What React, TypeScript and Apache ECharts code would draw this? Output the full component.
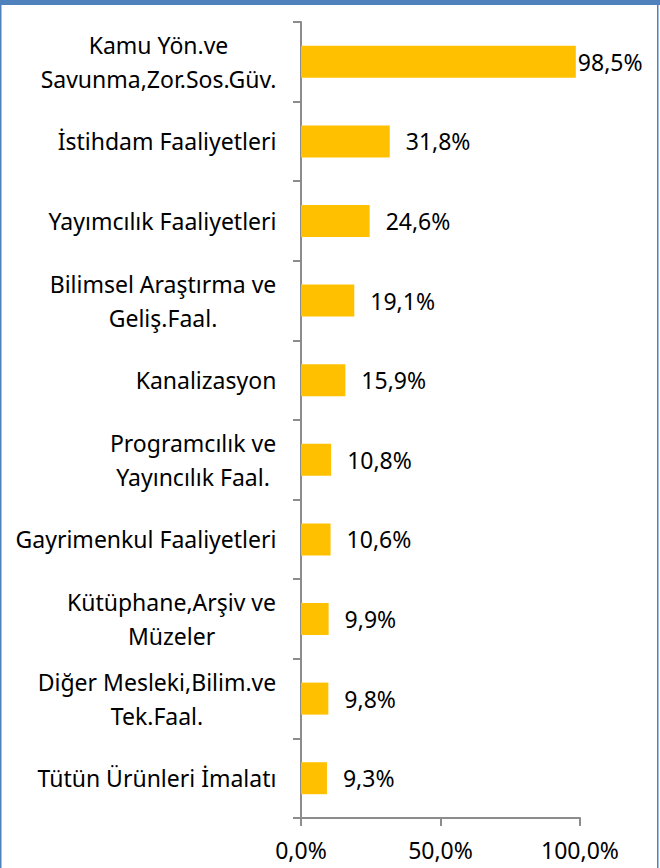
import React, { useEffect, useRef } from "react";
import * as echarts from "echarts";

const categories: string[] = [
  "Kamu Yön.ve\nSavunma,Zor.Sos.Güv.",
  "İstihdam Faaliyetleri",
  "Yayımcılık Faaliyetleri",
  "Bilimsel Araştırma ve\nGeliş.Faal.",
  "Kanalizasyon",
  "Programcılık ve\nYayıncılık Faal.",
  "Gayrimenkul Faaliyetleri",
  "Kütüphane,Arşiv ve\nMüzeler",
  "Diğer Mesleki,Bilim.ve\nTek.Faal.",
  "Tütün Ürünleri İmalatı",
];

const values: number[] = [98.5, 31.8, 24.6, 19.1, 15.9, 10.8, 10.6, 9.9, 9.8, 9.3];

const FONT = '"Noto Sans", sans-serif';
const FS = 23;

function fmt(v: number): string {
  return v.toFixed(1).replace(".", ",") + "%";
}

export default function App() {
  const ref = useRef<HTMLDivElement>(null);
  useEffect(() => {
    if (!ref.current) return;
    const chart = echarts.init(ref.current, undefined, { renderer: "svg" });

    const ctx = document.createElement("canvas").getContext("2d")!;
    ctx.font = `${FS}px ${FONT}`;
    const rich: Record<string, any> = {};
    categories.forEach((c, i) => {
      const w = Math.max(...c.split("\n").map((l) => ctx.measureText(l).width));
      rich["r" + i] = {
        width: Math.ceil(w) + 1,
        align: "center",
        fontSize: FS,
        fontFamily: FONT,
        color: "#000",
        lineHeight: 34,
      };
    });

    chart.setOption({
      animation: false,
      backgroundColor: "#fff",
      graphic: [
        { type: "rect", shape: { x: 0, y: 0, width: 660, height: 5 }, style: { fill: "#4F81BD" } },
        { type: "rect", shape: { x: 0, y: 0, width: 1.5, height: 868 }, style: { fill: "#4F81BD" } },
        { type: "rect", shape: { x: 657, y: 0, width: 1.5, height: 868 }, style: { fill: "#4F81BD" } },
      ],
      grid: { left: 301, right: 80, top: 22, bottom: 50, containLabel: false },
      xAxis: {
        type: "value",
        min: 0,
        max: 100,
        interval: 50,
        splitLine: { show: false },
        axisLine: { show: true, lineStyle: { color: "#8c8c8c", width: 2 } },
        axisTick: { show: true, length: 8, lineStyle: { color: "#8c8c8c", width: 2 } },
        axisLabel: {
          formatter: (v: number) => fmt(v),
          fontSize: FS,
          fontFamily: FONT,
          color: "#000",
          margin: 20,
        },
      },
      yAxis: {
        type: "category",
        inverse: true,
        data: categories,
        axisLine: { show: true, lineStyle: { color: "#8c8c8c", width: 2 } },
        axisTick: { show: true, length: 8, lineStyle: { color: "#8c8c8c", width: 2 } },
        axisLabel: {
          margin: 24,
          align: "right",
          interval: 0,
          formatter: (v: string, i: number) =>
            v.split("\n").map((l) => `{r${i}|${l}}`).join("\n"),
          rich,
        },
      },
      series: [
        {
          type: "bar",
          barWidth: 32,
          itemStyle: { color: "#FFC000" },
          data: values.map((v, i) => ({
            value: v,
            label: { distance: i === 0 ? 2 : 16 },
          })),
          label: {
            show: true,
            position: "right",
            formatter: (p: any) => fmt(p.value),
            fontSize: FS,
            fontFamily: FONT,
            color: "#000",
          },
        },
      ],
    });
    return () => chart.dispose();
  }, []);
  return (
    <div
      ref={ref}
      style={{ position: "absolute", left: 0, top: 0, width: 660, height: 868 }}
    />
  );
}
